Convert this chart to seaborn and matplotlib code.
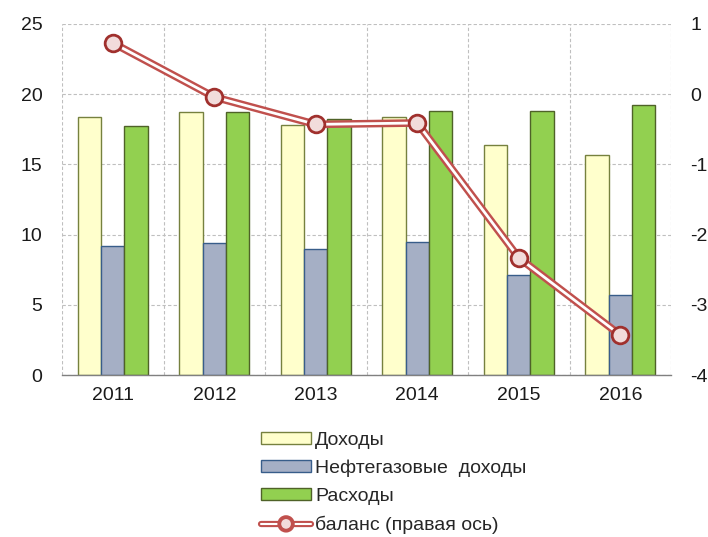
import numpy as np
import pandas as pd
import matplotlib
matplotlib.use("Agg")
import matplotlib.pyplot as plt
import matplotlib.patheffects as pe
from matplotlib.patches import Patch
from matplotlib.lines import Line2D
import seaborn as sns

# Data
years = ["2011", "2012", "2013", "2014", "2015", "2016"]
revenue = [18.4, 18.7, 17.8, 18.4, 16.4, 15.7]
oil_gas = [9.2, 9.4, 9.0, 9.5, 7.1, 5.7]
spending = [17.7, 18.7, 18.2, 18.8, 18.8, 19.2]
balance = [0.73, -0.04, -0.43, -0.41, -2.33, -3.43]

series_names = ["Доходы", "Нефтегазовые  доходы", "Расходы"]
line_name = "баланс (правая ось)"

fills = ["#ffffcc", "#a5afc5", "#92d050"]
edges = ["#76813f", "#385d8a", "#4f6228"]

df = pd.DataFrame({
    "year": years * 3,
    "value": revenue + oil_gas + spending,
    "series": [series_names[0]] * 6 + [series_names[1]] * 6 + [series_names[2]] * 6,
})

sns.set_style("white")
plt.rcParams["font.family"] = ["Liberation Sans", "DejaVu Sans"]

fig = plt.figure(figsize=(7.08, 5.37), dpi=100)
ax = fig.add_axes([62 / 708, 1 - 375 / 537, 609 / 708, 351 / 537])

sns.barplot(data=df, x="year", y="value", hue="series", hue_order=series_names,
            palette=fills, width=0.69, gap=0, ax=ax, legend=False, saturation=1)
# set bar edge colours per series
for cont, ec in zip(ax.containers, edges):
    for bar in cont:
        bar.set_edgecolor(ec)
        bar.set_linewidth(1.0)

ax.set_xlim(-0.5, 5.5)
ax.set_ylim(0, 25)
ax.set_yticks(range(0, 26, 5))
ax.set_xlabel("")
ax.set_ylabel("")
ax.set_axisbelow(True)
ax.yaxis.grid(True, color="#bfbfbf", linestyle=(0, (3, 2)), linewidth=0.8)
ax.set_xticks(np.arange(-0.5, 6, 1), minor=True)
ax.xaxis.grid(True, which="minor", color="#bfbfbf", linestyle=(0, (3, 2)), linewidth=0.8)
ax.tick_params(axis="x", which="major", length=0, labelsize=14, colors="#1a1a1a", pad=9)
ax.tick_params(axis="x", which="minor", length=5, color="#808080", direction="out")
ax.tick_params(axis="y", length=0, labelsize=14, colors="#1a1a1a", pad=14)
for side in ["left", "right", "top"]:
    ax.spines[side].set_visible(False)
ax.spines["bottom"].set_color("#808080")
ax.spines["bottom"].set_linewidth(1.0)

# right axis with balance line
ax2 = ax.twinx()
ax2.set_ylim(-4, 1)
ax2.set_yticks(range(-4, 2))
ax2.set_yticklabels(["-4", "-3", "-2", "-1", "0", "1"])
ax2.tick_params(axis="y", length=0, labelsize=14, colors="#1a1a1a", pad=14)
for side in ["left", "right", "top", "bottom"]:
    ax2.spines[side].set_visible(False)

line_fx = [pe.Stroke(linewidth=5.5, foreground="#c0504d"), pe.Normal()]
ax2.plot(range(len(years)), balance, color="white", linewidth=2,
         path_effects=line_fx, zorder=3)
ax2.plot(range(len(years)), balance, linestyle="none", marker="o", markersize=12,
         markerfacecolor="#f2dcdb", markeredgecolor="#a0302d", markeredgewidth=2, zorder=4)

# legend below the chart
handles = [Patch(facecolor=f, edgecolor=e, linewidth=1.0) for f, e in zip(fills, edges)]
handles.append(Line2D([0], [0], color="white", linewidth=1.5,
                      path_effects=[pe.Stroke(linewidth=4.5, foreground="#c0504d"), pe.Normal()],
                      marker="o", markersize=8, markerfacecolor="#f2dcdb",
                      markeredgecolor="#c0504d", markeredgewidth=1.0))
fig.legend(handles, series_names + [line_name], loc="upper left",
           bbox_to_anchor=(253 / 708, 1 - 424 / 537), frameon=False,
           fontsize=14, handlelength=2.6, handleheight=0.55, handletextpad=0.2,
           labelspacing=0.56, borderaxespad=0)

fig.savefig("out.png", dpi=100)
